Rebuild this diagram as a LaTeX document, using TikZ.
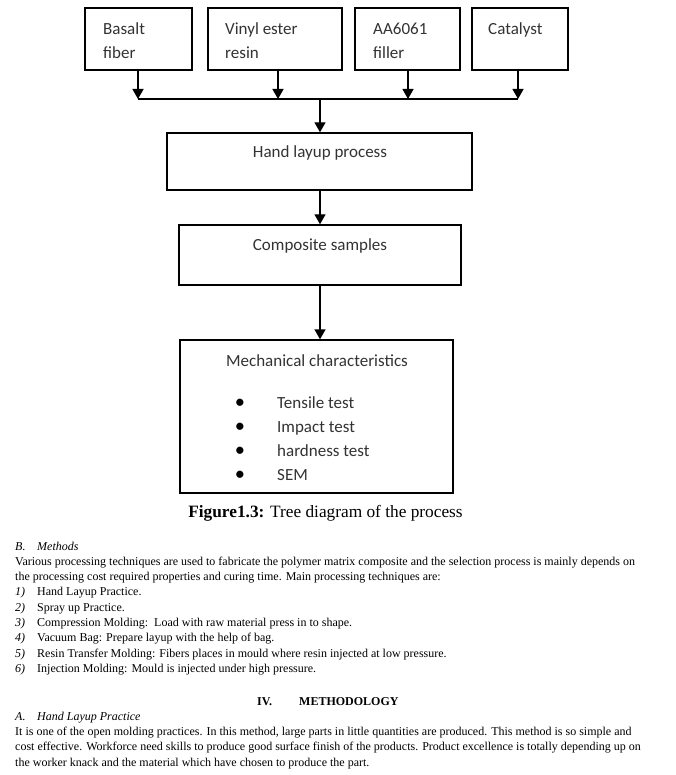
\documentclass[tikz,border=0pt]{standalone}
\usepackage{fontspec}
\setmainfont{Liberation Serif}
\newfontfamily\boxfont{Carlito}
\usetikzlibrary{arrows.meta}

\tikzset{
  procbox/.style={draw, line width=1.4pt, inner sep=0pt},
  feed/.style={-{Triangle[width=11pt,length=10pt]}, line width=1.4pt},
  boxtext/.style={font=\boxfont\fontsize{17}{24}\selectfont, text=black!80, anchor=base, inner sep=0pt},
  bodytext/.style={font=\fontsize{12}{15}\selectfont, anchor=base west, inner sep=0pt},
}

\begin{document}
\begin{tikzpicture}[x=1pt,y=-1pt]
      \useasboundingbox[fill=white] (0,0) rectangle (676,775);

      % Matieres premieres
      \node[procbox, minimum width=107pt, minimum height=62pt] (basalt) at (138.5,39) {};
      \node[procbox, minimum width=134pt, minimum height=62pt] (vinyl) at (275,39) {};
      \node[procbox, minimum width=105pt, minimum height=62pt] (filler) at (407.5,39) {};
      \node[procbox, minimum width=96pt, minimum height=62pt] (catalyst) at (520,39) {};
      \node[boxtext, anchor=base west] (basalt1) at (103,34.5) {Basalt};
      \node[boxtext, anchor=base west] (basalt2) at (103,58.5) {fiber};
      \node[boxtext, anchor=base west] (vinyl1) at (225,34.5) {Vinyl ester};
      \node[boxtext, anchor=base west] (vinyl2) at (225,58.5) {resin};
      \node[boxtext, anchor=base west] (filler1) at (373,34.5) {AA6061};
      \node[boxtext, anchor=base west] (filler2) at (373,58.5) {filler};
      \node[boxtext, anchor=base west] (catalyst1) at (488,34.5) {Catalyst};

      % Collecteur
      \coordinate (p1) at (138,99);
      \coordinate (p2) at (278,99);
      \coordinate (p3) at (408,99);
      \coordinate (p4) at (518,99);
      \coordinate (j) at (320,99);
      \draw[feed] (basalt.south -| p1) -- (p1);
      \draw[feed] (vinyl.south -| p2) -- (p2);
      \draw[feed] (filler.south -| p3) -- (p3);
      \draw[feed] (catalyst.south -| p4) -- (p4);
      \draw[line width=1.4pt] (p1) -- (p4);

      % Procede
      \node[procbox, minimum width=305pt, minimum height=57pt] (hand) at (319.5,161.5) {};
      \node[boxtext] (handtxt) at (320,158) {Hand layup process};
      \node[procbox, minimum width=282pt, minimum height=60pt] (composite) at (320,255) {};
      \node[boxtext] (compositetxt) at (320,251) {Composite samples};
      \node[procbox, minimum width=273pt, minimum height=153pt] (mech) at (316.5,416.5) {};
      \node[boxtext] (mechtxt) at (317,366) {Mechanical characteristics};
      \foreach \test [count=\i] in {Tensile test, Impact test, hardness test, SEM} {
        \node[boxtext, anchor=base west] (test\i) at (277,384+24*\i) {\test};
        \node[boxtext, text=black, scale=1.2] (dot\i) at (240,384.5+24*\i) {\textbullet};
      }
      \draw[feed] (j) -- (hand.north -| j);
      \draw[feed] (hand.south -| composite.north) -- (composite.north);
      \draw[feed] (composite.south) -- (composite.south |- mech.north);

      % Legende
      \node[anchor=base, inner sep=0pt, font=\fontsize{17.3}{20}\selectfont] (caption) at (325.5,517)
        {\textbf{Figure1.3:} Tree diagram of the process};

      % Texte
      \node[bodytext] (secB) at (15,550) {\textit{B.}};
      \node[bodytext] (secBt) at (37,550) {\textit{Methods}};
      \node[bodytext] (par1) at (15,565.3) {Various processing techniques are used to fabricate the polymer matrix composite and the selection process is mainly depends on};
      \node[bodytext] (par2) at (15,580.6) {the processing cost required properties and curing time. Main processing techniques are:};
      \foreach \nr/\txt [count=\i from 0] in {
          1/{Hand Layup Practice.},
          2/{Spray up Practice.},
          3/{Compression Molding:\ \ Load with raw material press in to shape.},
          4/{Vacuum Bag: Prepare layup with the help of bag.},
          5/{Resin Transfer Molding: Fibers places in mould where resin injected at low pressure.},
          6/{Injection Molding: Mould is injected under high pressure.}} {
        \node[bodytext] (nr\nr) at (15,595.9+15.3*\i) {\textit{\nr)}};
        \node[bodytext] (li\nr) at (37,595.9+15.3*\i) {\txt};
      }
      \node[bodytext] (secIV) at (257,705) {\textbf{IV.}};
      \node[bodytext] (secIVt) at (299,705) {\textbf{METHODOLOGY}};
      \node[bodytext] (secA) at (15,720.3) {\textit{A.}};
      \node[bodytext] (secAt) at (37,720.3) {\textit{Hand Layup Practice}};
      \node[bodytext] (par3) at (15,735.6) {It is one of the open molding practices. In this method, large parts in little quantities are produced. This method is so simple and};
      \node[bodytext] (par4) at (15,750.9) {cost effective. Workforce need skills to produce good surface finish of the products. Product excellence is totally depending up on};
      \node[bodytext] (par5) at (15,766.2) {the worker knack and the material which have chosen to produce the part.};
\end{tikzpicture}
\end{document}
